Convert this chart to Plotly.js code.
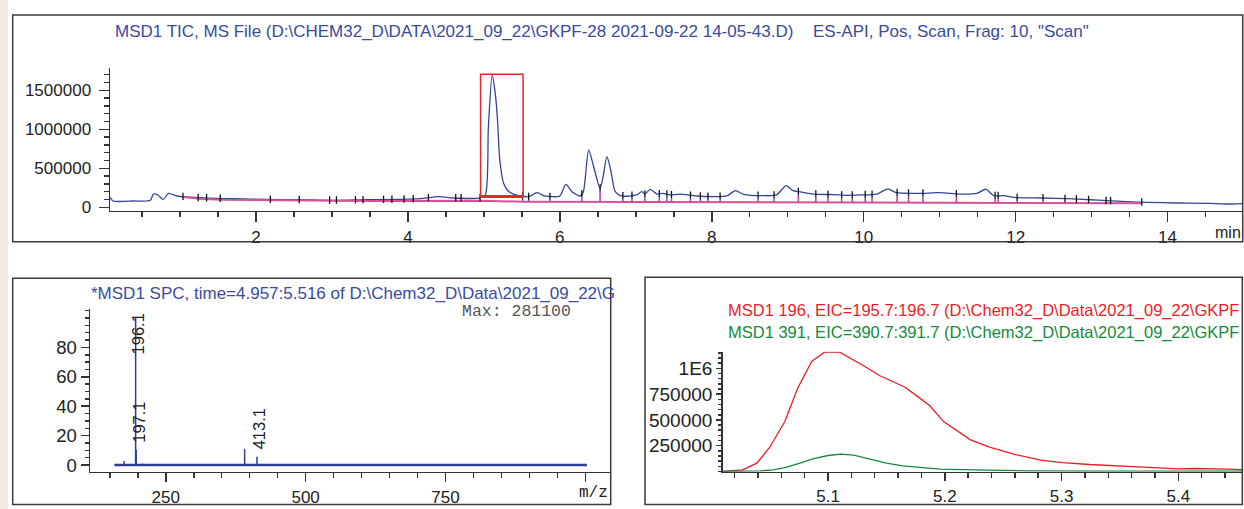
<!DOCTYPE html>
<html><head><meta charset="utf-8">
<script src="https://cdn.plot.ly/plotly-3.0.1.min.js"></script>
<style>html,body{margin:0;padding:0;background:#fff}#chart{width:1244px;height:509px}</style>
</head><body><div id="chart"></div>
<script>
// ---------- DATA ----------
// TIC chromatogram (min, counts)
const ticTime = [0.079,0.12,0.39,0.61,0.65,0.71,0.78,0.85,0.96,1.09,1.26,1.48,1.70,2.14,2.58,3.02,3.46,3.90,4.16,4.40,4.60,4.95,5.02,5.06,5.11,5.15,5.18,5.21,5.26,5.32,5.39,5.48,5.59,5.70,5.80,5.89,6.00,6.08,6.16,6.27,6.31,6.38,6.44,6.53,6.57,6.62,6.67,6.73,6.81,7.01,7.08,7.12,7.19,7.28,7.36,7.45,7.58,7.80,8.02,8.20,8.31,8.42,8.68,8.85,8.98,9.07,9.20,9.34,9.60,9.78,9.95,10.17,10.32,10.43,10.74,11.00,11.27,11.49,11.61,11.71,11.84,12.01,12.36,12.67,12.98,13.20,13.46,13.72,14.12,14.56,14.78,14.99];
const ticIntensity = [128000,81000,81000,90000,170000,158000,102000,179000,145000,132000,123000,115000,110000,102000,97000,90000,97000,102000,110000,136000,119000,120000,158000,1033000,1696000,1460000,1120000,606000,308000,209000,170000,145000,136000,187000,145000,136000,145000,295000,200000,145000,200000,735000,542000,244000,392000,649000,478000,200000,145000,158000,200000,170000,231000,170000,179000,158000,170000,145000,136000,145000,213000,166000,149000,158000,277000,213000,192000,170000,162000,154000,158000,170000,235000,187000,179000,187000,170000,179000,231000,149000,149000,123000,119000,110000,97000,85000,72000,64000,55000,51000,42000,46000];
// integration baseline
const baselineTime = [1.04,1.26,1.53,2.19,3.06,3.41,4.95,5.51,10.0,13.66];
const baselineIntensity = [132000,110000,97000,94000,81000,82000,85000,72000,60000,51000];
// integration event times
const eventTimes = [1.04,1.24,1.35,1.53,2.19,2.57,2.97,3.06,3.31,3.41,3.68,3.79,3.95,4.07,4.27,4.63,4.70,4.95,5.51,5.59,5.87,6.29,6.53,6.83,6.95,7.12,7.31,7.41,7.47,7.72,7.85,7.95,8.11,8.61,8.82,9.14,9.37,9.53,9.71,9.85,10.02,10.11,10.44,10.59,10.78,11.22,11.73,11.77,12.02,12.36,12.65,12.80,12.96,13.19,13.25,13.66];
const selectionWindow = [4.957, 5.516];

// averaged spectrum (m/z, relative abundance %)
const specMz = [175.5,196.1,197.1,208,235,272,391,413.1];
const specAbund = [2.8,100,10.2,1.0,0.6,0.6,10.9,5.6];
const specScanRange = [158, 1003];
const specLabelText = ['196.1','197.1','413.1'];
const specLabelMz = [196.1,197.1,413.1];
const specLabelAbund = [100,10.2,5.6];
const specMax = 281100;

// EICs
const eicTime196 = [5.010,5.027,5.039,5.050,5.063,5.074,5.086,5.097,5.110,5.121,5.133,5.144,5.156,5.166,5.176,5.187,5.199,5.210,5.222,5.239,5.259,5.282,5.301,5.324,5.347,5.370,5.387,5.400,5.413,5.424,5.441,5.455];
const eicInt196 = [0,16000,81000,233000,484000,807000,1066000,1157000,1157000,1088000,1008000,930000,872000,817000,733000,640000,484000,400000,307000,233000,168000,110000,87000,68000,52000,42000,32000,26000,29000,29000,23000,19000];
const eicTime391 = [5.010,5.042,5.053,5.064,5.076,5.087,5.100,5.111,5.122,5.136,5.150,5.164,5.178,5.196,5.204,5.230,5.273,5.330,5.455];
const eicInt391 = [0,6000,16000,39000,81000,123000,155000,168000,158000,120000,81000,55000,39000,23000,20000,13000,6000,3000,3000];

// tick labels
const ticXTicks = [2,4,6,8,10,12,14];
const ticYTicks = [0,500000,1000000,1500000];
const specXTicks = [250,500,750,1000];
const specXTickText = ['250','500','750',''];
const specYTicks = [0,20,40,60,80];
const eicXTicks = [5.1,5.2,5.3,5.4];
const eicYTicks = [250000,500000,750000,1000000];
const eicYTickText = ['250000','500000','750000','1E6'];

// ---------- BUILD ----------
const W = 1244, H = 509;
const X = px => px / W;
const Y = py => 1 - py / H;
const FONT = 'Liberation Sans, Arial, sans-serif';
const AX = '#333333';
const BLUE = '#33449b';

function interp(xs, ys, x) {
  if (x <= xs[0]) return ys[0];
  for (let i = 1; i < xs.length; i++) {
    if (x <= xs[i]) { const f = (x - xs[i-1]) / (xs[i] - xs[i-1]); return ys[i-1] + f * (ys[i] - ys[i-1]); }
  }
  return ys[ys.length - 1];
}

const evBlackX = [], evBlackY = [], evDropX = [], evDropY = [];
eventTimes.forEach(t => {
  const yc = interp(ticTime, ticIntensity, t);
  const yb = interp(baselineTime, baselineIntensity, t);
  evBlackX.push(t, t, null); evBlackY.push(yc - 45000, yc + 50000, null);
  if (yc - 45000 > yb + 5000) { evDropX.push(t, t, null); evDropY.push(yb, yc - 45000, null); }
});

const stickX = [], stickY = [];
specMz.forEach((m, i) => { stickX.push(m, m, null); stickY.push(0, specAbund[i], null); });

const traces = [
  {x: ticTime, y: ticIntensity, type: 'scatter', mode: 'lines', line: {color: BLUE, width: 1.3, shape: 'spline', smoothing: 0.7}, xaxis: 'x', yaxis: 'y', hoverinfo: 'skip'},
  {x: baselineTime, y: baselineIntensity, type: 'scatter', mode: 'lines', line: {color: '#d6519a', width: 2}, xaxis: 'x', yaxis: 'y', hoverinfo: 'skip'},
  {x: evDropX, y: evDropY, type: 'scatter', mode: 'lines', line: {color: '#c2449a', width: 1.6}, xaxis: 'x', yaxis: 'y', hoverinfo: 'skip'},
  {x: evBlackX, y: evBlackY, type: 'scatter', mode: 'lines', line: {color: '#111111', width: 1.3}, xaxis: 'x', yaxis: 'y', hoverinfo: 'skip'},
  {x: specScanRange, y: [0, 0], type: 'scatter', mode: 'lines', line: {color: '#2d3c96', width: 2.5}, xaxis: 'x2', yaxis: 'y2', hoverinfo: 'skip'},
  {x: stickX, y: stickY, type: 'scatter', mode: 'lines', line: {color: '#2d3c96', width: 1.5}, xaxis: 'x2', yaxis: 'y2', hoverinfo: 'skip'},
  {x: eicTime196, y: eicInt196, type: 'scatter', mode: 'lines', line: {color: '#ec1c24', width: 1.3}, xaxis: 'x3', yaxis: 'y3', hoverinfo: 'skip'},
  {x: eicTime391, y: eicInt391, type: 'scatter', mode: 'lines', line: {color: '#138a3c', width: 1.3}, xaxis: 'x3', yaxis: 'y3', hoverinfo: 'skip'}
];

function axis(o) {
  return Object.assign({
    showline: true, linecolor: AX, linewidth: 1.5, mirror: false,
    showgrid: false, zeroline: false, ticks: 'outside', tickcolor: AX, tickwidth: 1.5,
    tickmode: 'array', fixedrange: true,
    tickfont: {family: FONT, size: 17, color: '#222'}
  }, o);
}

const ticMaxVal = Math.max(...ticIntensity);
let winMin = Infinity;
ticTime.forEach((t, i) => { if (t >= selectionWindow[0] && t <= selectionWindow[1]) winMin = Math.min(winMin, ticIntensity[i]); });

const layout = {
  width: W, height: H, margin: {l: 0, r: 0, t: 0, b: 0},
  paper_bgcolor: '#ffffff', plot_bgcolor: 'rgba(0,0,0,0)', showlegend: false,
  xaxis: axis({domain: [X(110), X(1242.7)], range: [0.079, 14.989], anchor: 'y', tickvals: ticXTicks, ticklen: 10,
    minor: {ticks: 'outside', ticklen: 5, tickwidth: 1.5, tickcolor: AX, tickmode: 'linear', tick0: 0, dtick: 0.5, showgrid: false}}),
  yaxis: axis({domain: [Y(210.7), Y(68.3)], range: [-43600, 1782000], anchor: 'x', tickvals: ticYTicks, tickformat: 'd', ticklen: 10, ticklabelstandoff: 4,
    minor: {ticks: 'outside', ticklen: 5, tickwidth: 1.5, tickcolor: AX, tickmode: 'linear', tick0: 0, dtick: 100000, showgrid: false}}),
  xaxis2: axis({domain: [X(90), X(610.7)], range: [114.5, 1045.5], anchor: 'y2', tickvals: specXTicks, ticktext: specXTickText, ticklen: 9,
    minor: {ticks: 'outside', ticklen: 5, tickwidth: 1.5, tickcolor: AX, tickmode: 'linear', tick0: 0, dtick: 50, showgrid: false}}),
  yaxis2: axis({domain: [Y(471.7), Y(309.3)], range: [-4.5, 105.9], anchor: 'x2', tickvals: specYTicks, ticklen: 8,
    tickfont: {family: FONT, size: 18.5, color: '#222'},
    minor: {ticks: 'outside', ticklen: 4, tickwidth: 1.5, tickcolor: AX, tickmode: 'linear', tick0: 0, dtick: 5, showgrid: false}}),
  xaxis3: axis({domain: [X(722.7), X(1242.3)], range: [5.0098, 5.4548], anchor: 'y3', tickvals: eicXTicks, ticklen: 8,
    minor: {ticks: 'outside', ticklen: 5, tickwidth: 1.5, tickcolor: AX, tickmode: 'linear', tick0: 5.0, dtick: 0.02, showgrid: false}}),
  yaxis3: axis({domain: [Y(471.7), Y(351.7)], range: [-1900, 1161000], anchor: 'x3', tickvals: eicYTicks, ticktext: eicYTickText, ticklen: 5,
    tickfont: {family: FONT, size: 19, color: '#222'},
    minor: {ticks: 'outside', ticklen: 3, tickwidth: 1.5, tickcolor: AX, tickmode: 'linear', tick0: 0, dtick: 50000, showgrid: false}}),
  shapes: [
    {type: 'rect', xref: 'paper', yref: 'paper', x0: 0, x1: X(8), y0: 0, y1: 1, fillcolor: '#efeadd', line: {width: 0}, layer: 'below'},
    {type: 'rect', xref: 'paper', yref: 'paper', x0: X(12.7), x1: X(1242.7), y0: Y(241.7), y1: Y(15), line: {color: '#3a3a3a', width: 1.5}},
    {type: 'rect', xref: 'paper', yref: 'paper', x0: X(12.7), x1: X(610.7), y0: Y(504.5), y1: Y(278.3), line: {color: '#3a3a3a', width: 1.5}},
    {type: 'rect', xref: 'paper', yref: 'paper', x0: X(645), x1: X(1242.3), y0: Y(504.5), y1: Y(277.3), line: {color: '#3a3a3a', width: 1.5}},
    {type: 'rect', xref: 'x', yref: 'y', x0: selectionWindow[0], x1: selectionWindow[1], y0: winMin * 0.95, y1: ticMaxVal * 1.006, line: {color: '#e8262a', width: 1.5}},
    {type: 'line', xref: 'x', yref: 'y', x0: selectionWindow[0], x1: selectionWindow[1], y0: winMin * 0.95, y1: winMin * 0.95, line: {color: '#e8262a', width: 3}}
  ],
  annotations: []
};

const A = layout.annotations;
function pa(text, px, py, opts) {
  A.push(Object.assign({text: text, xref: 'paper', yref: 'paper', x: X(px), y: Y(py), xanchor: 'left', yanchor: 'middle', showarrow: false,
    font: {family: FONT, size: 17, color: '#3b4aa0'}}, opts || {}));
}
pa('MSD1 TIC, MS File (D:\\CHEM32_D\\DATA\\2021_09_22\\GKPF-28 2021-09-22 14-05-43.D)', 113, 31);
pa('ES-API, Pos, Scan, Frag: 10, "Scan"', 811, 31);
pa('min', 1243, 233, {xanchor: 'right', font: {family: FONT, size: 16, color: '#222'}});
pa('*MSD1 SPC, time=' + selectionWindow[0].toFixed(3) + ':' + selectionWindow[1].toFixed(3) + ' of D:\\Chem32_D\\Data\\2021_09_22\\G', 89, 293.5);
pa('Max: ' + specMax, 460, 311, {font: {family: 'Liberation Mono, Courier New, monospace', size: 16.5, color: '#555'}});
pa('m/z', 610, 493, {xanchor: 'right', font: {family: 'Liberation Mono, Courier New, monospace', size: 16, color: '#222'}});
pa('MSD1 196, EIC=195.7:196.7 (D:\\Chem32_D\\Data\\2021_09_22\\GKPF', 726, 310, {font: {family: FONT, size: 16.5, color: '#ec1c24'}});
pa('MSD1 391, EIC=390.7:391.7 (D:\\Chem32_D\\Data\\2021_09_22\\GKPF', 726, 332, {font: {family: FONT, size: 16.5, color: '#138a3c'}});

specLabelText.forEach((txt, i) => {
  const tall = specLabelAbund[i] > 60;
  A.push({text: txt, xref: 'x2', yref: 'y2', x: specLabelMz[i], y: tall ? 105.9 : specLabelAbund[i],
    xanchor: 'center', yanchor: tall ? 'top' : 'bottom', yshift: tall ? -2 : 5, xshift: 2,
    textangle: -90, showarrow: false, font: {family: FONT, size: 16.5, color: '#222'}});
});

Plotly.newPlot('chart', traces, layout, {staticPlot: true, displayModeBar: false});
</script>
</body></html>
